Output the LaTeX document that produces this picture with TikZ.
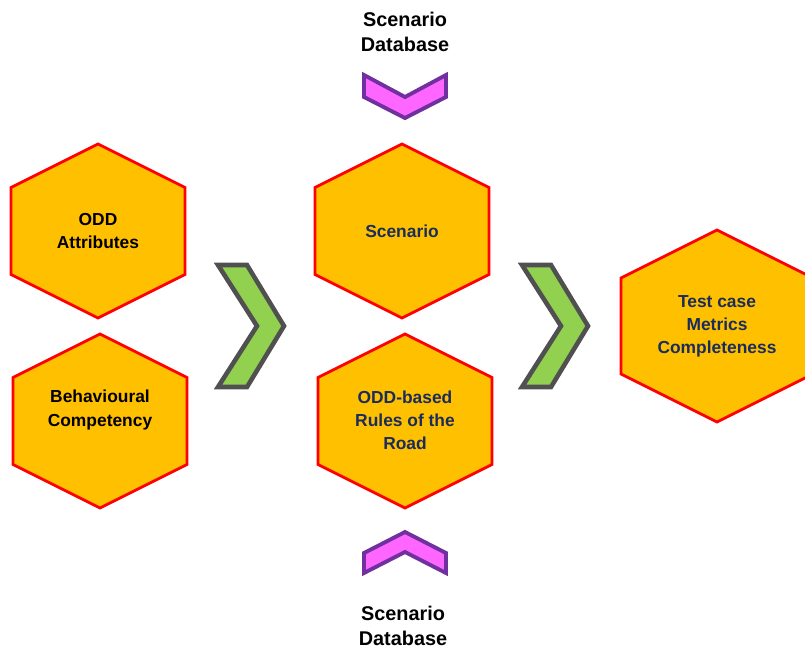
\documentclass[tikz,border=0pt]{standalone}
\usepackage{fontspec}
\setmainfont{Liberation Sans}
\usetikzlibrary{positioning}

\definecolor{hexorange}{HTML}{FFC000}
\definecolor{hexred}{HTML}{FF0000}
\definecolor{navytext}{HTML}{1A2C5B}
\definecolor{chevgreen}{HTML}{92D050}
\definecolor{chevgrey}{HTML}{505050}
\definecolor{chevpink}{HTML}{FF66FF}
\definecolor{chevpurple}{HTML}{7030A0}

\begin{document}
\begin{tikzpicture}[x=0.02cm,y=-0.02cm,
    hexa/.style={fill=hexorange,draw=hexred,line width=1.6pt,line join=miter},
    greenchev/.style={fill=chevgreen,draw=chevgrey,line width=2.6pt,line join=miter},
    pinkchev/.style={fill=chevpink,draw=chevpurple,line width=2.2pt,line join=miter},
    hextext/.style={align=center,font=\bfseries\fontsize{9.9}{13.1}\selectfont},
    dbtext/.style={align=center,font=\bfseries\fontsize{11.3}{14.2}\selectfont}]
  \useasboundingbox (0,0) rectangle (805,652);

  % hexagons
  \foreach \cx/\cy/\r in {98/231/87, 100/421/87, 402/231/87, 405/421/87, 717/326/96}
    \draw[hexa] (\cx,\cy-\r) -- (\cx+\r,\cy-\r/2) -- (\cx+\r,\cy+\r/2)
      -- (\cx,\cy+\r) -- (\cx-\r,\cy+\r/2) -- (\cx-\r,\cy-\r/2) -- cycle;

  % green chevrons
  \foreach \dx in {0,304}
    \draw[greenchev] (218+\dx,265) -- (247+\dx,265) -- (284+\dx,326)
      -- (247+\dx,387) -- (218+\dx,387) -- (257+\dx,326) -- cycle;

  % database chevrons
  \draw[pinkchev] (364,75) -- (405,97) -- (446,75) -- (446,97)
    -- (405,118) -- (364,97) -- cycle;
  \draw[pinkchev] (405,532) -- (446,553) -- (446,573) -- (405,552)
    -- (364,573) -- (364,553) -- cycle;

  \node[hextext] (attr) at (98,231) {ODD\\Attributes};
  \node[hextext] (behav) at (100,410) {Behavioural\\Competency};
  \node[hextext,text=navytext] (scen) at (402,231) {Scenario};
  \node[hextext,text=navytext] (rules) at (405,420) {ODD-based\\Rules of the\\Road};
  \node[hextext,text=navytext] (test) at (717,326) {Test case\\Metrics\\Completeness};

  \node[dbtext] (dbtop) at (405,32) {Scenario\\Database};
  \node[dbtext] (dbbot) at (403,626) {Scenario\\Database};
\end{tikzpicture}
\end{document}
